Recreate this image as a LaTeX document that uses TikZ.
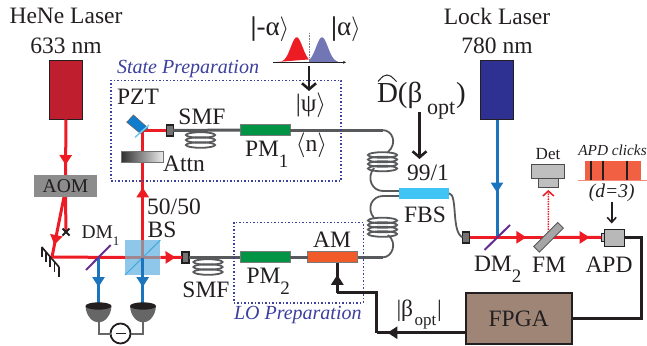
\documentclass[tikz,border=0pt]{standalone}
\usepackage{fontspec}
\setmainfont{Liberation Serif}
\usetikzlibrary{arrows.meta,decorations.markings}
\definecolor{txt}{HTML}{231F20}
\definecolor{rb}{HTML}{ED1C24}
\definecolor{bb}{HTML}{1C75BC}
\definecolor{fib}{HTML}{58595B}
\definecolor{ind}{HTML}{3B3F9E}
\definecolor{mauve}{HTML}{A0878F}
\definecolor{henecol}{HTML}{BE1E2D}
\definecolor{lockcol}{HTML}{2E3192}
\definecolor{aomcol}{HTML}{8C8C8C}
\definecolor{bscol}{HTML}{8FC7EA}
\definecolor{bsdiag}{HTML}{41AADC}
\definecolor{pztcol}{HTML}{0F7DCD}
\definecolor{pztline}{HTML}{6ECDF0}
\definecolor{dmcol}{HTML}{662D91}
\definecolor{pmcol}{HTML}{009444}
\definecolor{amcol}{HTML}{F15A29}
\definecolor{fbscol}{HTML}{40C4F4}
\definecolor{peakcol}{HTML}{7276B5}
\definecolor{clickcol}{HTML}{F26044}
\definecolor{clickline}{HTML}{F28C78}
\definecolor{fpgacol}{HTML}{9E8576}
\newcommand{\lowsub}[1]{\raisebox{-11pt}{\fontsize{19}{19}\selectfont #1}}
\newcommand{\ket}{$\rangle$}
\newcommand{\fibcoil}[4]{\foreach \k in {1,...,#4}{\draw[line width=1.8pt,fib] (#1,{#2+(\k-1)*#3}) ellipse [x radius=14.5,y radius=2.8];}}
\tikzset{
 x=1pt,y=-1pt,
 lab/.style={font=\fontsize{23.5}{24}\selectfont,text=txt,inner sep=0,outer sep=0},
 ketlab/.style={font=\fontsize{27}{27}\selectfont,text=txt,inner sep=0,outer sep=0},
 ital/.style={font=\fontsize{20}{20}\itshape\selectfont,text=ind,inner sep=0,outer sep=0},
 laserbox/.style={draw=txt,line width=1.8pt,minimum width=33,minimum height=59,inner sep=0,outer sep=0},
 modul/.style={draw=fib!80,line width=1pt,minimum width=50,minimum height=11,inner sep=0,outer sep=0},
 conn/.style={draw=txt,fill=gray!90!black,line width=1.4pt,minimum width=7,minimum height=11,inner sep=0,outer sep=0},
 redbeam/.style={draw=rb,line width=3pt},
 bluebeam/.style={draw=bb,line width=3pt},
 fibre/.style={draw=fib,line width=3pt},
 thinfib/.style={draw=fib,line width=1.8pt},
 wire/.style={draw=txt,line width=3pt},
 tipat/.style={postaction={decorate},decoration={markings,mark=at position #1 with {\arrow{Triangle[length=10pt,width=12pt]}}}},
 openarrow/.style={draw=txt,line width=2.6pt,-{Straight Barb[length=6pt,width=14pt]}},
 dotbox/.style={draw=ind,line width=1.5pt,dash pattern=on 1.5pt off 2pt},
}
\begin{document}
\begin{tikzpicture}
\useasboundingbox (0,0) rectangle (647,345);
% lasers and AOM
\node[laserbox,fill=henecol] (hene) at (66,90) {};
\node[laserbox,fill=lockcol] (lock) at (497,90) {};
\node[lab] at (66,16) {HeNe Laser};
\node[lab] at (66,46) {633 nm};
\node[lab] at (497,16) {Lock Laser};
\node[lab] at (497,46) {780 nm};
\node[fill=aomcol,minimum width=63,minimum height=22,lab,font=\fontsize{19.5}{20}\selectfont] (aom) at (65.5,186) {AOM};
\draw[redbeam,tipat=.82] (hene.south) -- (aom.north);
% beam after AOM
\coordinate (stop) at (66,232);
\coordinate (mir) at (52,257);
\draw[redbeam] (aom.south) -- (stop);
\draw[txt,line width=1.8pt] (62.5,228.5) -- (69.5,235.5) (62.5,235.5) -- (69.5,228.5);
\draw[redbeam,tipat=.8] (64,197) -- (mir);
% mirror
\draw[txt,line width=1.7pt] (41.7,247) -- (59,267);
\foreach \a/\b in {41.7/247,46/252,50.2/257,54.5/262,59/267}{\draw[txt,line width=1.7pt] (\a,\b) -- (\a,\b+10);}
% beam splitter
\node[fill=bscol,minimum width=35.5,minimum height=35,inner sep=0,outer sep=0] (bs) at (142.7,257.5) {};
\draw[bsdiag,line width=1pt] (bs.south west) -- (bs.north east);
% fibre connectors
\node[conn] (c1) at (185.5,257.3) {};
\node[conn] (c2) at (169.7,130.3) {};
\node[conn] (c3) at (466,237.3) {};
% free-space beams
\draw[redbeam] (mir) -- (bs.west);
\draw[redbeam,tipat=.7] (bs.east) -- (c1.west);
\draw[mauve,line width=3pt] (bs.west) -- (bs.east) (bs.north) -- (bs.center);
\coordinate (pztc) at (142.7,130.3);
\draw[redbeam,tipat=.48] (bs.north) -- (pztc);
\draw[redbeam] (pztc) -- (c2.west);
% attn
\node[left color=black!80,right color=black!8,draw=black!55,line width=.8pt,minimum width=41.5,minimum height=11.5,inner sep=0,outer sep=0] (attn) at (142.5,157) {};
\node[lab] at (184,164) {Attn};
% PZT mirror
\draw[fill=pztcol,draw=txt!70,line width=.6pt] (126.7,122.2) -- (133.4,115) -- (148,128) -- (140.5,133.5) -- cycle;
\draw[pztline,line width=1.5pt] (135,137.3) -- (149,125);
\node[lab] at (138,97) {PZT};
% DM1 & detectors
\coordinate (dma) at (98.5,257.3);
\coordinate (db1) at (98.5,303);
\coordinate (db2) at (142.7,303);
\draw[bluebeam,tipat=.65] (dma) -- (db1);
\draw[bluebeam,tipat=.65] (bs.center) -- (db2);
\draw[dmcol,line width=2pt] (86,270) -- (110.7,245);
\node[lab,font=\fontsize{19.5}{20}\selectfont,anchor=base west] at (81.5,238) {DM\raisebox{-7pt}{\fontsize{13}{13}\selectfont 1}};
\node[lab] at (174,206.5) {50/50};
\node[lab] at (162,230) {BS};
\node[draw=txt,fill=white,circle,line width=1.8pt,minimum size=20,inner sep=0,outer sep=0] (minus) at (120.5,333.5) {};
\draw[txt,line width=1.8pt] (115.5,333.5) -- (125.5,333.5);
\draw[draw=black!60,line width=2pt] (98.5,322) |- (minus.west);
\draw[draw=black!60,line width=2pt] (143,322) |- (minus.east);
\foreach \cx in {98.5,143}{
 \fill[black!60!white] (\cx-13,306) .. controls (\cx-12.5,316) and (\cx-6,322.5) .. (\cx,322.5) .. controls (\cx+6,322.5) and (\cx+12.5,316) .. (\cx+13,306) -- cycle;
 \fill[txt] (\cx,306) ellipse [x radius=13,y radius=3.7];
}
% fibres top
\fibcoil{200.5}{135}{5}{3}
\fibcoil{208}{262}{5}{3}
\node[modul,fill=pmcol] (pm1) at (265.3,130.2) {};
\node[modul,fill=pmcol] (pm2) at (265.3,257.3) {};
\node[modul,fill=amcol] (am) at (332.5,257.3) {};
\node[minimum width=50,minimum height=11,inner sep=0,outer sep=0,fill=fbscol] (fbs) at (424,193.3) {};
\draw[fibre] (c2.east) -- (pm1.west);
\draw[fibre] (c1.east) -- (pm2.west);
\draw[fibre] (pm2.east) -- (am.west);
\coordinate (f1) at (383,130.2);
\coordinate (f2) at (383,191);
\coordinate (f3) at (383,196);
\coordinate (f4) at (383,257.3);
\draw[fibre] (pm1.east) -- (f1);
\draw[fibre] (am.east) -- (f4);
\draw[fibre,line width=2pt] (f2) -- (fbs.west |- f2);
\draw[fibre,line width=2pt] (f3) -- (fbs.west |- f3);
\draw[thinfib] (f1) .. controls (392,130) and (398,143) .. (388,152);
\draw[thinfib] (374,168) .. controls (366,178) and (372,191) .. (f2);
\draw[thinfib] (f3) .. controls (372,196) and (366,208) .. (374,218);
\draw[thinfib] (388,235) .. controls (398,243) and (392,257.3) .. (f4);
\fibcoil{382.5}{155}{4.5}{4}
\fibcoil{382.5}{220.5}{4.5}{4}
\draw[thinfib] (fbs.east) .. controls (458,194) and (451,232) .. (c3.west);
% labels
\node[lab] at (202,117) {SMF};
\node[lab] at (206,290) {SMF};
\node[lab,anchor=base west] at (245,156.5) {PM\lowsub{1}};
\node[lab,anchor=base west] at (246.5,283) {PM\lowsub{2}};
\node[lab] at (332,240) {AM};
\node[lab] at (311.5,145) {$\langle$n\ket};
\node[lab,font=\fontsize{25}{25}\selectfont] at (311,105) {|ψ\ket};
\node[ketlab] at (270,29) {{\bfseries|}-α\ket};
\node[ketlab] at (346,29) {{\bfseries|}α\ket};
\node[lab] at (428,173) {99/1};
\node[lab] at (425,215) {FBS};
\node[lab,font=\fontsize{29}{29}\selectfont,anchor=base west] at (377,102) {D(β};
\draw[txt,line width=1pt] (378,81.5) .. controls (383,76) and (384,75) .. (387,75) .. controls (390,75) and (391,76) .. (396.5,81.5);
\node[lab,font=\fontsize{22}{22}\selectfont,anchor=base west] at (427,114) {opt};
\node[lab,font=\fontsize{29}{29}\selectfont,anchor=base west] at (456,102) {)};
% state plot
\fill[rb] plot[domain=273:309,samples=40] ({\x},{62.3-25*exp(-(\x-296.7)*(\x-296.7)/70)}) -- cycle;
\fill[peakcol] plot[domain=309:338,samples=40] ({\x},{62.3-25*exp(-(\x-322)*(\x-322)/70)}) -- (338,62.3) -- (309,62.3) -- cycle;
\draw[black!50,line width=.6pt,densely dotted] (309,33) -- (309,62);
\draw[txt,line width=.9pt,-{Stealth[length=3pt,width=3pt]}] (273,62.3) -- (346,62.3);
\coordinate (pa) at (309,66);
\coordinate (pb) at (309,91);
\draw[openarrow] (pa) -- (pb);
% D arrow
\coordinate (da) at (419.5,112);
\coordinate (db) at (419.5,159);
\draw[openarrow] (da) -- (db);
% boxes
\node[dotbox,minimum width=230,minimum height=100.5,inner sep=0,outer sep=0] (spbox) at (226,130.5) {};
\node[dotbox,minimum width=129.5,minimum height=80.5,inner sep=0,outer sep=0] (lobox) at (298.7,262.5) {};
\node[ital,anchor=west] at (117,69) {State Preparation};
\node[ital,anchor=west] at (234,315) {LO Preparation};
% lock beam
\node[minimum width=20,minimum height=17,draw=txt,line width=1pt,fill=black!28,inner sep=0,outer sep=0] (apd) at (614,237.5) {};
\node[minimum width=3.5,minimum height=8,draw=txt,line width=.8pt,fill=black!28,inner sep=0,outer sep=0] (apdf) at (603,237.5) {};
\coordinate (dm2) at (497,237.3);
\coordinate (fm) at (548.5,237.3);
\draw[bluebeam,tipat=.62] (lock.south) -- (dm2);
\draw[redbeam,tipat=.72] (c3.east) -- (fm);
\draw[redbeam,tipat=.78] (fm) -- (apdf.west);
\draw[dmcol,line width=2pt] (484.5,250) -- (510,225);
\draw[rb,line width=1.5pt,densely dotted,-{Straight Barb[length=5pt,width=11pt]}] (fm) -- (548.3,190);
\node[draw=txt!75,line width=.9pt,fill=black!35,minimum width=34,minimum height=8,rotate=45,inner sep=0,outer sep=0] (fmb) at (fm) {};
\node[draw=black!70,line width=1pt,fill=black!25,minimum width=33,minimum height=14,inner sep=0,outer sep=0] (dettop) at (548.3,171) {};
\node[draw=black!70,line width=1pt,fill=black!25,minimum width=19.5,minimum height=9,inner sep=0,outer sep=0] (detbot) at (548.3,182.5) {};
\node[lab,font=\fontsize{17}{17}\selectfont] at (548,154) {Det};
\node[lab,anchor=base west] at (474,271.7) {DM\lowsub{2}};
\node[lab] at (549,265) {FM};
\node[lab] at (609,265) {APD};
% clicks
\fill[clickcol] (585,160.7) rectangle (641,180);
\draw[clickline,line width=1pt] (578,180) -- (647,180);
\foreach \v in {591,603,626.7}{\draw[txt,line width=2pt] (\v,160.7) -- (\v,180);}
\node[lab,font=\fontsize{15.3}{15}\itshape\selectfont] at (612.5,150) {APD clicks};
\node[lab,font=\fontsize{19.5}{20}\itshape\selectfont] (dnum) at (611.7,192.5) {(d=3)};
\coordinate (ck) at (611.7,202);
\draw[draw=txt,line width=1.6pt,-{Straight Barb[length=5pt,width=9pt]}] (ck) -- (611.7,223.5);
% FPGA
\node[draw=txt,line width=2pt,fill=fpgacol,minimum width=106,minimum height=51,lab] (fpga) at (518.7,318.5) {FPGA};
\draw[wire] (apd.east) -- (641.5,237.5) |- (fpga.east);
\coordinate (w1) at (465.7,332.7);
\coordinate (w2) at (376.7,332.7);
\coordinate (w3) at (376.7,292.7);
\coordinate (w4) at (337.3,292.7);
\draw[wire,tipat=.88] (w1) -- (w2);
\draw[wire] (w2) -- (w3) -- (w4);
\draw[wire,tipat=.6] (w4) -- (am.south -| w4);
\node[lab,anchor=base west] at (396.5,316) {|β};
\node[lab,font=\fontsize{17}{17}\selectfont,anchor=base west] at (414.5,325) {opt};
\node[lab,anchor=base west] at (437,316) {|};
\end{tikzpicture}
\end{document}
